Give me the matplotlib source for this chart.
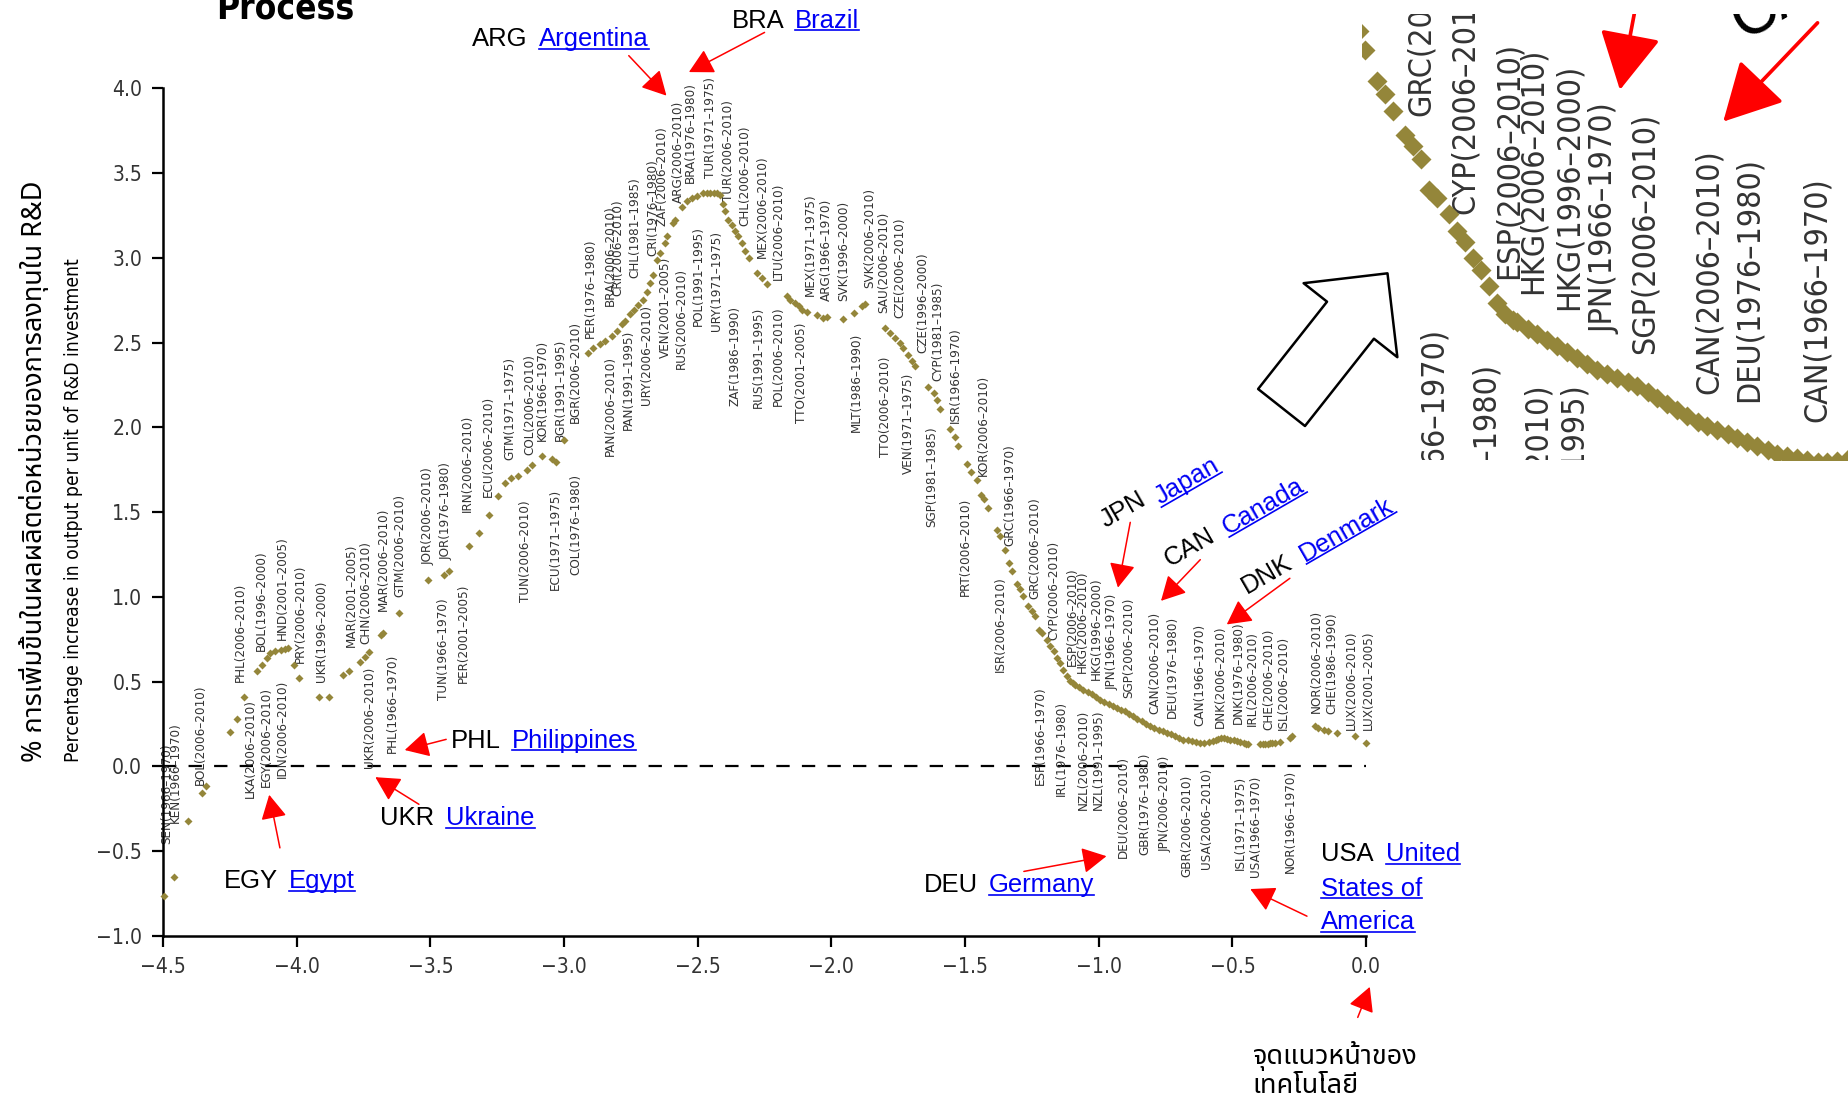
import math
import matplotlib
matplotlib.use("Agg")
import matplotlib.pyplot as plt
import matplotlib.font_manager as fm
from matplotlib.font_manager import FontProperties
from matplotlib.ft2font import FT2Font
from matplotlib.patches import FancyArrowPatch
from matplotlib.lines import Line2D
from matplotlib.transforms import IdentityTransform

# ---------------------------------------------------------------- data
x_vals = [-4.497, -4.458, -4.408, -4.355, -4.338, -4.25, -4.224, -4.196, -4.149, -4.13,
          -4.112, -4.10, -4.08, -4.06, -4.045, -4.032, -4.012, -3.99, -3.915, -3.881,
          -3.828, -3.806, -3.764, -3.744, -3.728, -3.686, -3.677, -3.619, -3.51, -3.45,
          -3.43, -3.357, -3.32, -3.28, -3.248, -3.22, -3.197, -3.172, -3.14, -3.121,
          -3.083, -3.045, -3.03, -3.002,
          -2.909, -2.89, -2.865, -2.846, -2.821, -2.803, -2.784, -2.771, -2.753, -2.74,
          -2.722, -2.703, -2.69, -2.678, -2.666, -2.653, -2.64, -2.622, -2.616, -2.591,
          -2.585, -2.56, -2.541, -2.522, -2.503, -2.479, -2.466, -2.454, -2.441, -2.429,
          -2.415, -2.405, -2.398, -2.385, -2.373, -2.36, -2.348, -2.335, -2.323, -2.31,
          -2.279, -2.26, -2.241, -2.167, -2.154, -2.136, -2.123, -2.111, -2.092, -2.055,
          -2.03, -2.017, -1.955, -1.917, -1.886, -1.874, -1.799, -1.78, -1.762, -1.743,
          -1.731, -1.712, -1.699, -1.687, -1.637, -1.618, -1.606, -1.593, -1.556, -1.537,
          -1.525, -1.494, -1.478, -1.456, -1.44, -1.428, -1.416, -1.381, -1.369, -1.352,
          -1.335, -1.325, -1.306, -1.294, -1.282, -1.263, -1.25, -1.238, -1.225, -1.213,
          -1.194, -1.182, -1.169, -1.157, -1.144, -1.132, -1.119, -1.107,
          -1.095, -1.088, -1.072, -1.057, -1.041, -1.026, -1.01, -0.995, -0.979, -0.963,
          -0.948, -0.932, -0.916, -0.901, -0.885, -0.87, -0.855, -0.839, -0.823, -0.807,
          -0.792, -0.776, -0.76, -0.745, -0.73, -0.714, -0.698, -0.683, -0.667, -0.652,
          -0.636, -0.62, -0.605, -0.589, -0.571, -0.561, -0.552, -0.543, -0.533, -0.52,
          -0.508, -0.495, -0.483, -0.47, -0.458, -0.449, -0.44,
          -0.396, -0.387, -0.377, -0.368, -0.359, -0.35, -0.34, -0.321, -0.284, -0.277,
          -0.19, -0.178, -0.159, -0.141, -0.109, -0.04, 0.0]
y_vals = [-0.765, -0.653, -0.32, -0.157, -0.118, 0.206, 0.278, 0.408, 0.565, 0.60,
          0.637, 0.667, 0.68, 0.69, 0.692, 0.696, 0.598, 0.524, 0.41, 0.41,
          0.54, 0.563, 0.614, 0.647, 0.676, 0.775, 0.79, 0.908, 1.098, 1.13,
          1.155, 1.30, 1.38, 1.485, 1.596, 1.67, 1.70, 1.716, 1.75, 1.78,
          1.83, 1.815, 1.794, 1.928,
          2.44, 2.469, 2.495, 2.51, 2.537, 2.567, 2.61, 2.63, 2.67, 2.69,
          2.72, 2.75, 2.80, 2.85, 2.90, 2.99, 3.03, 3.088, 3.127, 3.206,
          3.225, 3.30, 3.333, 3.353, 3.363, 3.38, 3.38, 3.38, 3.38, 3.38,
          3.37, 3.32, 3.274, 3.225, 3.196, 3.156, 3.127, 3.088, 3.038, 2.999,
          2.911, 2.881, 2.848, 2.773, 2.754, 2.734, 2.714, 2.695, 2.679, 2.665,
          2.645, 2.651, 2.64, 2.675, 2.714, 2.73, 2.587, 2.557, 2.528, 2.498,
          2.469, 2.429, 2.39, 2.36, 2.24, 2.205, 2.16, 2.11, 1.99, 1.945,
          1.889, 1.785, 1.74, 1.687, 1.604, 1.58, 1.525, 1.397, 1.358, 1.279,
          1.201, 1.152, 1.078, 1.044, 1.004, 0.945, 0.916, 0.886, 0.808, 0.788,
          0.749, 0.709, 0.68, 0.641, 0.611, 0.572, 0.532, 0.503,
          0.49, 0.483, 0.468, 0.454, 0.44, 0.425, 0.41, 0.395, 0.38, 0.366,
          0.356, 0.346, 0.336, 0.326, 0.312, 0.297, 0.282, 0.267, 0.252, 0.238,
          0.228, 0.218, 0.208, 0.199, 0.189, 0.179, 0.169, 0.159, 0.154, 0.149,
          0.145, 0.14, 0.14, 0.142, 0.149, 0.156, 0.163, 0.167, 0.169, 0.165,
          0.159, 0.154, 0.149, 0.145, 0.14, 0.135, 0.13,
          0.13, 0.13, 0.13, 0.133, 0.136, 0.138, 0.14, 0.143, 0.169, 0.179,
          0.238, 0.228, 0.218, 0.212, 0.199, 0.179, 0.14]

# point labels: text, x, y (end nearest the point), side ('a' above / 'b' below)
label_text = ["SEN(1966–1970)", "KEN(1966–1970)", "BOL(2006–2010)", "PHL(2006–2010)",
              "LKA(2006–2010)", "EGY(2006–2010)", "IDN(2006–2010)", "BOL(1996–2000)",
              "HND(2001–2005)", "PRY(2006–2010)", "UKR(1996–2000)", "MAR(2001–2005)",
              "CHN(2006–2010)", "MAR(2006–2010)", "GTM(2006–2010)", "UKR(2006–2010)",
              "PHL(1966–1970)", "JOR(2006–2010)", "JOR(1976–1980)", "TUN(1966–1970)",
              "PER(2001–2005)", "IRN(2006–2010)", "ECU(2006–2010)", "TUN(2006–2010)",
              "ECU(1971–1975)", "COL(1976–1980)", "GTM(1971–1975)", "COL(2006–2010)",
              "KOR(1966–1970)", "BGR(1991–1995)", "BGR(2006–2010)", "PER(1976–1980)",
              "BRA(2006–2010)", "CRI(2006–2010)", "CHL(1981–1985)", "CRI(1976–1980)",
              "ZAF(2006–2010)", "ARG(2006–2010)", "BRA(1976–1980)", "TUR(1971–1975)",
              "TUR(2006–2010)", "CHL(2006–2010)", "MEX(2006–2010)", "LTU(2006–2010)",
              "MEX(1971–1975)", "ARG(1966–1970)", "SVK(1996–2000)", "SVK(2006–2010)",
              "SAU(2006–2010)", "CZE(2006–2010)", "CZE(1996–2000)", "CYP(1981–1985)",
              "ISR(1966–1970)", "KOR(2006–2010)", "GRC(1966–1970)", "GRC(2006–2010)",
              "CYP(2006–2010)", "ESP(2006–2010)", "HKG(2006–2010)", "HKG(1996–2000)",
              "JPN(1966–1970)", "SGP(2006–2010)", "CAN(2006–2010)", "DEU(1976–1980)",
              "CAN(1966–1970)", "DNK(2006–2010)", "DNK(1976–1980)", "IRL(2006–2010)",
              "CHE(2006–2010)", "ISL(2006–2010)", "NOR(2006–2010)", "CHE(1986–1990)",
              "LUX(2006–2010)", "LUX(2001–2005)",
              "PAN(2006–2010)", "PAN(1991–1995)", "URY(2006–2010)", "VEN(2001–2005)",
              "RUS(2006–2010)", "POL(1991–1995)", "URY(1971–1975)", "ZAF(1986–1990)",
              "RUS(1991–1995)", "POL(2006–2010)", "TTO(2001–2005)", "MLT(1986–1990)",
              "TTO(2006–2010)", "VEN(1971–1975)", "SGP(1981–1985)", "PRT(2006–2010)",
              "ISR(2006–2010)", "ESP(1966–1970)", "IRL(1976–1980)", "NZL(2006–2010)",
              "NZL(1991–1995)", "DEU(2006–2010)", "GBR(1976–1980)", "JPN(2006–2010)",
              "GBR(2006–2010)", "USA(2006–2010)", "ISL(1971–1975)", "USA(1966–1970)",
              "NOR(1966–1970)"]
label_x = [-4.488, -4.455, -4.36, -4.212, -4.174, -4.115, -4.053, -4.132, -4.053, -3.987,
           -3.906, -3.794, -3.741, -3.677, -3.614, -3.728, -3.644, -3.507, -3.443, -3.452,
           -3.376, -3.36, -3.284, -3.146, -3.033, -2.955, -3.202, -3.127, -3.081, -3.015,
           -2.959, -2.903, -2.828, -2.797, -2.734, -2.666, -2.634, -2.572, -2.528, -2.454,
           -2.385, -2.323, -2.26, -2.198, -2.08, -2.017, -1.955, -1.855, -1.805, -1.743,
           -1.656, -1.60, -1.537, -1.431, -1.331, -1.238, -1.169, -1.10, -1.063, -1.007,
           -0.951, -0.889, -0.789, -0.726, -0.62, -0.546, -0.477, -0.427, -0.365, -0.309,
           -0.184, -0.128, -0.053, 0.009,
           -2.828, -2.759, -2.69, -2.622, -2.56, -2.497, -2.429, -2.36, -2.273, -2.198,
           -2.111, -1.905, -1.799, -1.712, -1.625, -1.50, -1.369, -1.219, -1.138, -1.057,
           -1.001, -0.907, -0.829, -0.751, -0.67, -0.595, -0.471, -0.415, -0.284]
label_y = [-0.46, -0.333, -0.108, 0.50, 0.40, 0.47, 0.51, 0.68, 0.745, 0.608,
           0.50, 0.706, 0.725, 0.92, 1.0, 0.59, 0.667, 1.186, 1.216, 0.99,
           1.078, 1.50, 1.588, 1.57, 1.637, 1.725, 1.81, 1.84, 1.918, 1.918,
           2.027, 2.528, 2.714, 2.773, 2.881, 3.009, 3.186, 3.324, 3.441, 3.471,
           3.333, 3.186, 2.999, 2.871, 2.773, 2.744, 2.744, 2.822, 2.675, 2.645,
           2.439, 2.272, 2.027, 1.712, 1.299, 0.99, 0.749, 0.591, 0.552, 0.513,
           0.454, 0.405, 0.307, 0.287, 0.238, 0.228, 0.248, 0.238, 0.218, 0.218,
           0.317, 0.307, 0.218, 0.218,
           2.419, 2.577, 2.724, 3.009, 2.94, 3.186, 3.156, 2.714, 2.714, 2.714,
           2.616, 2.557, 2.419, 2.321, 2.006, 1.584, 1.122, 0.473, 0.385, 0.336,
           0.336, 0.061, 0.081, 0.061, -0.047, -0.008, -0.057, -0.057, -0.018]
label_side = (["a", "a", "a", "a", "b", "b", "b", "a", "a", "a",
               "a", "a", "a", "a", "a", "b", "b", "a", "a", "b",
               "b", "a", "a", "b", "b", "b"] + ["a"] * 48 + ["b"] * 29)

x_ticks = [-4.5, -4.0, -3.5, -3.0, -2.5, -2.0, -1.5, -1.0, -0.5, 0.0]
y_ticks = [-1.0, -0.5, 0.0, 0.5, 1.0, 1.5, 2.0, 2.5, 3.0, 3.5, 4.0]

title_text = "Process"
ylabel_th = "% การเพิ่มขึ้นในผลผลิตต่อหน่วยของการลงทุนใน R&D"
ylabel_en = "Percentage increase in output per unit of R&D investment"
frontier_text = "จุดแนวหน้าของ\nเทคโนโลยี"

# annotations: code, [(link text, position)], code position, rotation, arrow tail, arrow tip
annotations = [
    ("ARG", [("Argentina", (-3.093, 4.29))], (-3.344, 4.29), 0, (-2.758, 4.193), (-2.617, 3.957)),
    ("BRA", [("Brazil", (-2.136, 4.40))], (-2.374, 4.40), 0, (-2.25, 4.33), (-2.533, 4.096)),
    ("EGY", [("Egypt", (-4.028, -0.675))], (-4.271, -0.675), 0, (-4.063, -0.48), (-4.103, -0.167)),
    ("PHL", [("Philippines", (-3.194, 0.153))], (-3.424, 0.153), 0, (-3.441, 0.16), (-3.596, 0.097)),
    ("UKR", [("Ukraine", (-3.441, -0.306))], (-3.688, -0.306), 0, (-3.543, -0.223), (-3.706, -0.063)),
    ("DEU", [("Germany", (-1.41, -0.702))], (-1.653, -0.702), 0, (-1.28, -0.619), (-0.971, -0.529)),
    ("USA", [("United", (0.074, -0.517)), ("States of", (-0.168, -0.722)),
             ("America", (-0.168, -0.918))], (-0.168, -0.517), 0, (-0.221, -0.883), (-0.433, -0.723)),
    ("JPN", [("Japan", (-0.67, 1.682))], (-0.907, 1.515), 30, (-0.882, 1.44), (-0.928, 1.055)),
    ("CAN", [("Canada", (-0.384, 1.535))], (-0.658, 1.29), 30, (-0.62, 1.22), (-0.767, 0.977)),
    ("DNK", [("Denmark", (-0.072, 1.397))], (-0.371, 1.132), 30, (-0.285, 1.11), (-0.521, 0.838)),
]
frontier_arrow = ((-0.031, -1.48), (0.014, -1.30))

# ---------------------------------------------------------------- fonts
ttf = fm.fontManager.ttflist
font_names = {f.name for f in ttf}


def pick_condensed():
    if "Liberation Sans Narrow" in font_names:
        return "Liberation Sans Narrow", "normal"
    for fam in ("DejaVu Sans", "Roboto", "Noto Sans", "Open Sans", "Liberation Sans"):
        for f in ttf:
            if f.name == fam and str(f.stretch) in ("condensed", "semi-condensed"):
                return fam, str(f.stretch)
    for f in ttf:
        if "Condensed" in f.name or "Narrow" in f.name:
            return f.name, "normal"
    return "DejaVu Sans", "normal"


COND, COND_STRETCH = pick_condensed()
SANS = "Liberation Sans" if "Liberation Sans" in font_names else "DejaVu Sans"


def find_font(cp, prefer):
    found = []
    for f in ttf:
        try:
            cmap = FT2Font(f.fname).get_charmap()
        except Exception:
            continue
        if cp in cmap:
            found.append(f.name)
    for p in prefer:
        if p in found:
            return p
    return found[0] if found else "DejaVu Sans"


THAI = find_font(0x0E01, ["Tahoma", "Noto Sans Thai", "Noto Sans Thai UI", "Loma",
                          "Garuda", "Waree", "Norasi", "Laksaman"])

plt.rcParams["font.family"] = [COND, "DejaVu Sans"]
plt.rcParams["font.stretch"] = COND_STRETCH
plt.rcParams["axes.unicode_minus"] = True

OLIVE = "#94863a"
LBL_COLOR = "#333333"
BLUE = "#0000f5"

fig = plt.figure(figsize=(18.49, 10.99), dpi=100)
rend = fig.canvas.get_renderer()


def size_for(text, family, target_px, weight="normal", stretch="normal"):
    prop = FontProperties(family=family, size=10, weight=weight, stretch=stretch)
    w, h, d = rend.get_text_width_height_descent(text, prop, ismath=False)
    return 10.0 * target_px / w


LBL_FS = size_for("CAN(2006–2010)", [COND, "DejaVu Sans"], 102, stretch=COND_STRETCH)
TICK_FS = size_for("\u22121.5", [COND, "DejaVu Sans"], 46, stretch=COND_STRETCH)
TITLE_FS = size_for(title_text, [COND, "DejaVu Sans"], 138, weight="bold", stretch=COND_STRETCH)
ANN_FS = size_for("Argentina", [SANS, "DejaVu Sans"], 110)
THAI_FS = size_for("จุดแนวหน้าของ", [THAI, "DejaVu Sans"], 165)

ax = fig.add_axes([0.0882, 0.1483, 0.6506, 0.7713])
ax.set_xlim(-4.5, 0.0)
ax.set_ylim(-1.0, 4.0)

links = []


def draw_panel(a, s, clip):
    a.plot(x_vals, y_vals, ls="none", marker="D", ms=4.3 * s, color=OLIVE,
           mec="none", clip_on=clip, zorder=3)
    for t, x, y, side in zip(label_text, label_x, label_y, label_side):
        a.text(x, y, t, rotation=90, ha="center",
               va="bottom" if side == "a" else "top",
               fontsize=LBL_FS * s, color=LBL_COLOR, family=[COND, "DejaVu Sans"],
               fontstretch=COND_STRETCH, clip_on=clip, zorder=2)
    a.axhline(0, color="black", lw=1.6 * s, dashes=(6, 5.5), zorder=1)
    for code, names, cxy, rot, tail, tip in annotations:
        kw = dict(fontsize=ANN_FS * s, family=[SANS, "DejaVu Sans"], clip_on=clip,
                  rotation=rot, zorder=5)
        if rot:
            kw.update(ha="center", va="center", rotation_mode="anchor")
        else:
            kw.update(ha="left", va="center")
        a.text(cxy[0], cxy[1], code, color="black", **kw)
        for nm, nxy in names:
            tt = a.text(nxy[0], nxy[1], nm, color=BLUE, **kw)
            if not clip:
                links.append(tt)
        arr = FancyArrowPatch(tail, tip, arrowstyle="-|>,head_length=0.75,head_width=0.4",
                              mutation_scale=20 * s, color="red", lw=1.1 * s,
                              shrinkA=0, shrinkB=0, zorder=6)
        a.add_patch(arr)
        arr.set_clip_on(clip)


draw_panel(ax, 1.0, False)

# frontier annotation (Thai)
ax.text(-0.424, -1.795, frontier_text, ha="left", va="center", fontsize=THAI_FS,
        family=[THAI, "DejaVu Sans"], linespacing=1.05, clip_on=False)
fa = FancyArrowPatch(frontier_arrow[0], frontier_arrow[1],
                     arrowstyle="-|>,head_length=0.75,head_width=0.4",
                     mutation_scale=20, color="red", lw=1.1, shrinkA=0, shrinkB=0)
ax.add_patch(fa)
fa.set_clip_on(False)

# axes styling
for sp in ("top", "right"):
    ax.spines[sp].set_visible(False)
for sp in ("left", "bottom"):
    ax.spines[sp].set_linewidth(1.8)
ax.set_xticks(x_ticks)
ax.set_yticks(y_ticks)
ax.set_xticklabels([f"{v:.1f}".replace("-", "\u2212") for v in x_ticks])
ax.set_yticklabels([f"{v:.1f}".replace("-", "\u2212") for v in y_ticks])
ax.tick_params(direction="out", length=8, width=1.6, labelsize=TICK_FS, pad=7,
               labelcolor="#333333")

# y labels
t_th = fig.text(0.0185, 0.3066, ylabel_th, rotation=90, ha="center", va="bottom",
                fontsize=17, weight="bold", family=[THAI, "DejaVu Sans"])
t_en = fig.text(0.0395, 0.3066, ylabel_en, rotation=90, ha="center", va="bottom",
                fontsize=15, family=[COND, "DejaVu Sans"], fontstretch=COND_STRETCH)

# title (cut at top edge)
fig.text(0.117, 0.9836, title_text, ha="left", va="baseline", fontsize=TITLE_FS,
         weight="bold", family=[COND, "DejaVu Sans"], fontstretch=COND_STRETCH)

# ---------------------------------------------------------------- inset (magnified view)
ax_in = fig.add_axes([0.7366, 0.5815, 0.2634, 0.4055])
ax_in.set_xlim(-1.33, -0.571)
ax_in.set_ylim(0.145, 1.241)
ax_in.set_xticks([])
ax_in.set_yticks([])
for sp in ax_in.spines.values():
    sp.set_visible(False)
draw_panel(ax_in, 2.4, True)

# hollow block arrow pointing to the inset
big = FancyArrowPatch((0.6931, 0.6292), (0.7504, 0.7513),
                      arrowstyle="simple,head_length=43,head_width=86,tail_width=43",
                      mutation_scale=1, transform=fig.transFigure, fc="white",
                      ec="black", lw=1.8, shrinkA=0, shrinkB=0, zorder=20)
fig.add_artist(big)

# ---------------------------------------------------------------- fit text lengths, underlines
fig.canvas.draw()
r = fig.canvas.get_renderer()
for t, target in ((t_th, 580.0), (t_en, 505.0)):
    bb = t.get_window_extent(r)
    t.set_fontsize(t.get_fontsize() * target / bb.height)
fig.canvas.draw()
r = fig.canvas.get_renderer()
for t in links:
    bb = t.get_window_extent(r)
    cx, cy = (bb.x0 + bb.x1) / 2, (bb.y0 + bb.y1) / 2
    rot = t.get_rotation()
    t.set_rotation(0)
    b0 = t.get_window_extent(r)
    t.set_rotation(rot)
    w, h = b0.width, b0.height
    th = math.radians(rot)
    ux, uy = math.cos(th), math.sin(th)
    nx, ny = math.sin(th), -math.cos(th)
    off = 0.40 * h
    x0 = cx - ux * w / 2 + nx * off
    y0 = cy - uy * w / 2 + ny * off
    x1 = cx + ux * w / 2 + nx * off
    y1 = cy + uy * w / 2 + ny * off
    fig.add_artist(Line2D([x0, x1], [y0, y1], transform=IdentityTransform(),
                          color=BLUE, lw=1.2, zorder=6))

fig.savefig("out.png", dpi=100)
